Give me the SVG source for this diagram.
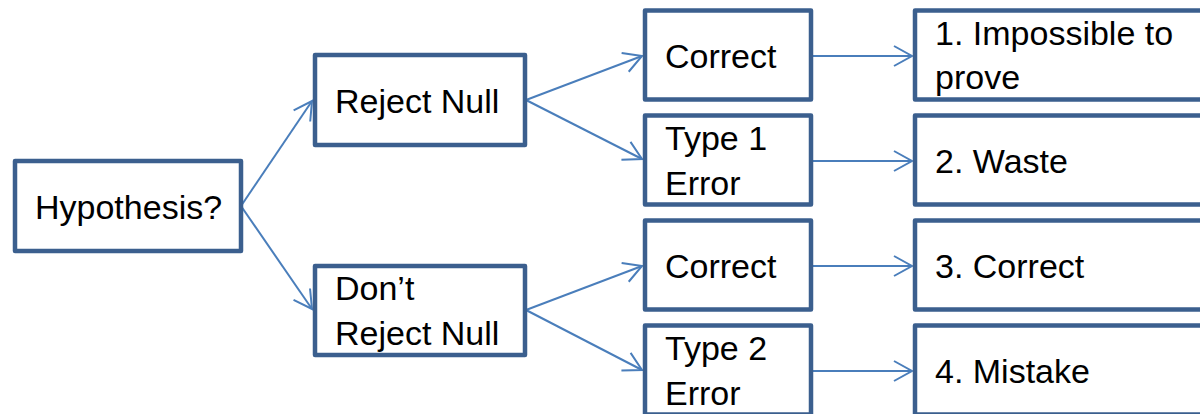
<svg xmlns="http://www.w3.org/2000/svg" width="1200" height="414" viewBox="0 0 1200 414">
  <style>
    .box { fill: #ffffff; stroke: #3B5F8E; stroke-width: 4.5; stroke-linejoin: round; }
    .lbl { font-family: "Liberation Sans", Arial, sans-serif; font-size: 34px; fill: #000000; }
    .conn { fill: none; stroke: #4A7EBB; stroke-width: 2; marker-end: url(#arrow); }
  </style>
  <defs>
    <marker id="arrow" markerUnits="userSpaceOnUse" markerWidth="24" markerHeight="24" viewBox="-20 -12 24 24" refX="0" refY="0" orient="auto" overflow="visible">
      <path d="M -18 -10 L 0 0 L -18 10" fill="none" stroke="#4A7EBB" stroke-width="2" stroke-linejoin="miter"/>
    </marker>
  </defs>

  <rect width="1200" height="414" fill="#ffffff"/>

  <!-- connectors -->
  <g id="connectors">
    <line class="conn" x1="241" y1="206" x2="312" y2="101"/>
    <line class="conn" x1="241" y1="206" x2="312" y2="309"/>
    <line class="conn" x1="526" y1="100" x2="642" y2="56"/>
    <line class="conn" x1="526" y1="100" x2="642" y2="159"/>
    <line class="conn" x1="526" y1="310" x2="642" y2="266"/>
    <line class="conn" x1="526" y1="310" x2="642" y2="370"/>
    <line class="conn" x1="812" y1="56" x2="912" y2="56"/>
    <line class="conn" x1="812" y1="161" x2="912" y2="161"/>
    <line class="conn" x1="812" y1="266" x2="912" y2="266"/>
    <line class="conn" x1="812" y1="371" x2="912" y2="371"/>
  </g>

  <!-- root -->
  <g id="hypothesis">
    <rect class="box" x="15" y="161" width="226" height="90"/>
    <text class="lbl" x="35" y="219">Hypothesis?</text>
  </g>

  <!-- decisions -->
  <g id="reject-null">
    <rect class="box" x="315" y="55" width="210" height="90"/>
    <text class="lbl" x="335" y="113">Reject Null</text>
  </g>
  <g id="dont-reject-null">
    <rect class="box" x="315" y="266" width="210" height="89"/>
    <text class="lbl" x="335" y="300">Don’t</text>
    <text class="lbl" x="335" y="345">Reject Null</text>
  </g>

  <!-- outcomes -->
  <g id="correct-1">
    <rect class="box" x="645" y="10.5" width="166" height="89"/>
    <text class="lbl" x="665" y="68">Correct</text>
  </g>
  <g id="type-1-error">
    <rect class="box" x="645" y="115.5" width="166" height="89"/>
    <text class="lbl" x="665" y="150">Type 1</text>
    <text class="lbl" x="665" y="195">Error</text>
  </g>
  <g id="correct-2">
    <rect class="box" x="645" y="220.5" width="166" height="89"/>
    <text class="lbl" x="665" y="278">Correct</text>
  </g>
  <g id="type-2-error">
    <rect class="box" x="645" y="325.5" width="166" height="89"/>
    <text class="lbl" x="665" y="360">Type 2</text>
    <text class="lbl" x="665" y="405">Error</text>
  </g>

  <!-- consequences -->
  <g id="result-1">
    <rect class="box" x="915" y="10.5" width="320" height="89"/>
    <text class="lbl" x="935" y="45">1. Impossible to</text>
    <text class="lbl" x="935" y="89">prove</text>
  </g>
  <g id="result-2">
    <rect class="box" x="915" y="115.5" width="320" height="89"/>
    <text class="lbl" x="935" y="173">2. Waste</text>
  </g>
  <g id="result-3">
    <rect class="box" x="915" y="220.5" width="320" height="89"/>
    <text class="lbl" x="935" y="278">3. Correct</text>
  </g>
  <g id="result-4">
    <rect class="box" x="915" y="325.5" width="320" height="89"/>
    <text class="lbl" x="935" y="383">4. Mistake</text>
  </g>
</svg>
